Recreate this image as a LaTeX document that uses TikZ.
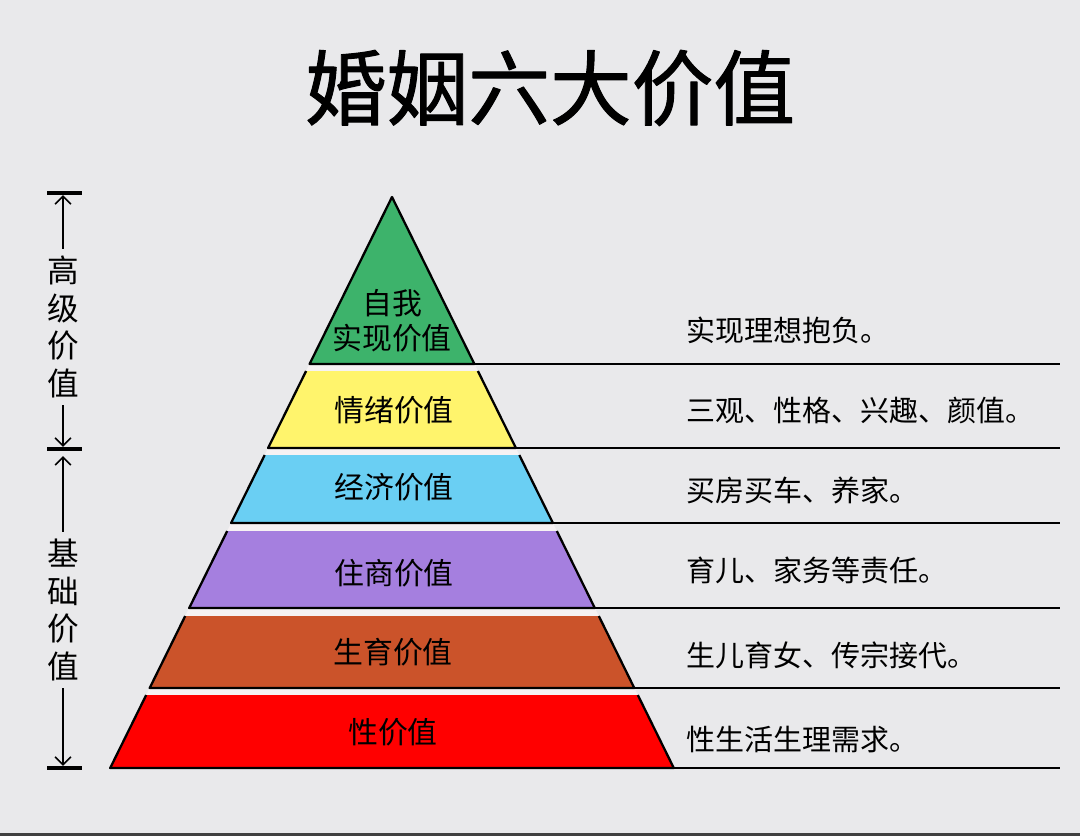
\documentclass[tikz,border=0pt]{standalone}
\usepackage{fontspec}
\setmainfont{Noto Sans CJK SC}
\newfontfamily\titlefont{Noto Sans CJK SC}[FakeBold=1.2]
\usetikzlibrary{arrows.meta}
\definecolor{paper}{HTML}{E9E9EB}
\definecolor{gapwhite}{HTML}{F6F2F3}
\definecolor{selfgreen}{HTML}{3DB36B}
\definecolor{moodyellow}{HTML}{FFF46C}
\definecolor{moneyblue}{HTML}{6ACFF3}
\definecolor{homepurple}{HTML}{A57FDF}
\definecolor{kidorange}{HTML}{CB532A}
\definecolor{sexred}{HTML}{FF0000}
\tikzset{
  layeredge/.style={line width=1.3pt, line join=round},
  layertext/.style={font=\fontsize{17}{20}\selectfont},
  desctext/.style={anchor=west, font=\fontsize{16.5}{20}\selectfont},
  sideline/.style={line width=1.3pt},
  bracket/.style={line width=0.9pt, -{Straight Barb[length=4.5pt,width=9pt]}},
  bracketend/.style={line width=1.8pt},
  sidetext/.style={align=center, inner sep=0pt,
    font=\fontsize{18}{21.3}\selectfont}
}

\begin{document}
\begin{tikzpicture}[line cap=butt,line join=round,x=0.02cm,y=-0.02cm]
    \fill[paper] (0,0) rectangle (1080,836);
    \fill[black!75] (0,833) rectangle (1080,836);
    \useasboundingbox (0,0) rectangle (1080,836);

    \node[font=\titlefont\fontsize{46.5}{50}\selectfont] (title) at (550,88) {婚姻六大价值};

    \coordinate (apex) at (392,197);
    \fill[gapwhite] (apex) -- (110.2,768) -- (673.8,768) -- cycle;

    \fill[selfgreen] (apex) -- (309.6,364) -- (474.4,364) -- cycle;
    \draw[layeredge] (apex) -- (309.6,364) -- (474.4,364) -- cycle;
    \fill[moodyellow] (306.1,371) -- (268.1,448) -- (515.9,448) -- (477.9,371) -- cycle;
    \draw[layeredge] (306.1,371) -- (268.1,448) -- (515.9,448) -- (477.9,371);
    \fill[moneyblue] (264.7,455) -- (231.1,523) -- (552.9,523) -- (519.3,455) -- cycle;
    \draw[layeredge] (264.7,455) -- (231.1,523) -- (552.9,523) -- (519.3,455);
    \fill[homepurple] (227.2,531) -- (189.2,608) -- (594.8,608) -- (556.8,531) -- cycle;
    \draw[layeredge] (227.2,531) -- (189.2,608) -- (594.8,608) -- (556.8,531);
    \fill[kidorange] (185.2,616) -- (149.7,688) -- (634.3,688) -- (598.8,616) -- cycle;
    \draw[layeredge] (185.2,616) -- (149.7,688) -- (634.3,688) -- (598.8,616);
    \fill[sexred] (146.2,695) -- (110.2,768) -- (673.8,768) -- (637.8,695) -- cycle;
    \draw[layeredge] (146.2,695) -- (110.2,768) -- (673.8,768) -- (637.8,695);

    \coordinate (self) at (474.4,364);
    \coordinate (mood) at (515.9,448);
    \coordinate (money) at (552.9,523);
    \coordinate (home) at (594.8,608);
    \coordinate (kid) at (634.3,688);
    \coordinate (sex) at (673.8,768);
    \coordinate (selfend) at (1060,364);
    \coordinate (moodend) at (1060,448);
    \coordinate (moneyend) at (1060,523);
    \coordinate (homeend) at (1060,608);
    \coordinate (kidend) at (1060,688);
    \coordinate (sexend) at (1060,768);

    \draw[sideline] (self) -- (selfend);
    \draw[sideline] (mood) -- (moodend);
    \draw[sideline] (money) -- (moneyend);
    \draw[sideline] (home) -- (homeend);
    \draw[sideline] (kid) -- (kidend);
    \draw[sideline] (sex) -- (sexend);

    \node[layertext, align=center] (selflabel) at (392,321) {自我\\实现价值};
    \node[layertext] (moodlabel) at (394,410) {情绪价值};
    \node[layertext] (moneylabel) at (394,487) {经济价值};
    \node[layertext] (homelabel) at (394,573) {住商价值};
    \node[layertext] (kidlabel) at (393,652) {生育价值};
    \node[layertext] (sexlabel) at (393,732) {性价值};

    \node[desctext] (selfdesc) at (680,330) {实现理想抱负。};
    \node[desctext] (mooddesc) at (680,410) {三观、性格、兴趣、颜值。};
    \node[desctext] (moneydesc) at (680,490) {买房买车、养家。};
    \node[desctext] (homedesc) at (680,570) {育儿、家务等责任。};
    \node[desctext] (kiddesc) at (680,655) {生儿育女、传宗接代。};
    \node[desctext] (sexdesc) at (680,740) {性生活生理需求。};

    \coordinate (topend) at (63,193);
    \coordinate (midend) at (63,449);
    \coordinate (lowend) at (63,768);
    \draw[bracketend] (47,193) -- (82,193);
    \draw[bracketend] (47,449) -- (82,449);
    \draw[bracketend] (47,768) -- (82,768);

    \node[sidetext] (high) at (63,327) {高\\级\\价\\值};
    \node[sidetext] (base) at (63,610) {基\\础\\价\\值};
    \draw[bracket] ([yshift=4pt]high.north) -- ([yshift=-1.2pt]topend);
    \draw[bracket] ([yshift=-4pt]high.south) -- ([yshift=1.2pt]midend);
    \draw[bracket] ([yshift=4pt]base.north) -- ([yshift=-4pt]midend);
    \draw[bracket] ([yshift=-4pt]base.south) -- ([yshift=1.2pt]lowend);
\end{tikzpicture}
\end{document}
